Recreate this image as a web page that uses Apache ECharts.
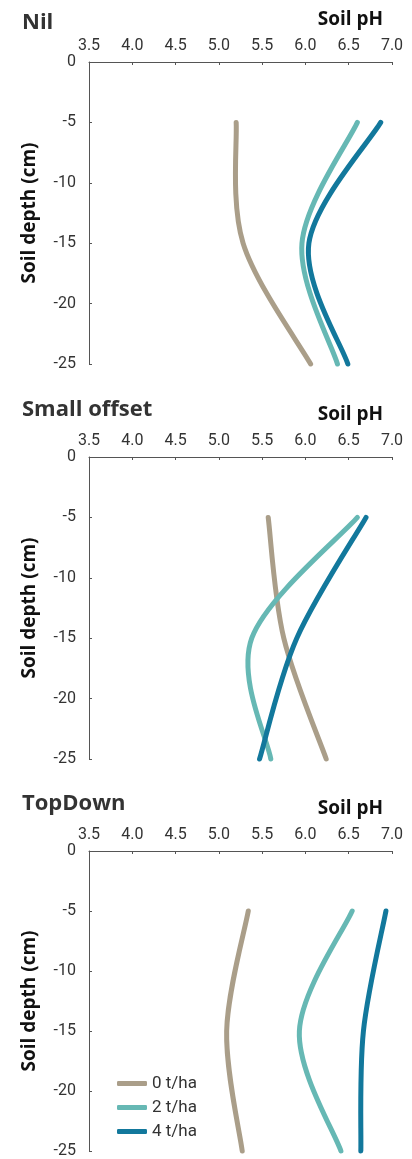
<!DOCTYPE html>
<html>
<head>
<meta charset="utf-8">
<script src="https://cdn.jsdelivr.net/npm/echarts@6/dist/echarts.min.js"></script>
<style>
  html, body { margin: 0; padding: 0; background: #fff; }
  #chart { width: 412px; height: 1159px; }
</style>
</head>
<body>
<div id="chart"></div>
<script>
// Sampling depths (cm, negative = below surface)
const depths = [-5, -15, -25];

// Soil pH by lime rate, one array per treatment panel
const nil0 = [5.20, 5.28, 6.06];
const nil2 = [6.60, 5.96, 6.37];
const nil4 = [6.87, 6.04, 6.49];

const small0 = [5.57, 5.75, 6.24];
const small2 = [6.60, 5.38, 5.60];
const small4 = [6.70, 5.90, 5.47];

const top0 = [5.34, 5.09, 5.27];
const top2 = [6.54, 5.93, 6.41];
const top4 = [6.93, 6.67, 6.64];

const panelTitles = ['Nil', 'Small offset', 'TopDown'];
const rateNames = ['0 t/ha', '2 t/ha', '4 t/ha'];
const rateColors = ['#AA9E89', '#66B8B4', '#12789C'];
const phTicks = { min: 3.5, max: 7.0, step: 0.5 };
const depthTicks = { min: -25, max: 0, step: 5 };

const panels = [
  [nil0, nil2, nil4],
  [small0, small2, small4],
  [top0, top2, top4]
];

const gridTops = [62, 457, 851];
const gridHeight = 302;
const textColor = '#333';
const axisColor = '#555';
const titleFont = '"Open Sans", sans-serif';
const labelFont = 'Roboto, sans-serif';

// Smooth curve through the data points (Catmull-Rom style Bezier in pixel space)
function curveRenderer(phs, color) {
  return function (params, api) {
    if (params.dataIndex !== 0) return null;
    const p = phs.map((v, i) => api.coord([v, depths[i]]));
    const k = 1 / 6;
    let d = 'M' + p[0][0] + ' ' + p[0][1];
    for (let i = 0; i < p.length - 1; i++) {
      const a = p[i - 1] || p[i];
      const b = p[i];
      const c = p[i + 1];
      const e = p[i + 2] || p[i + 1];
      const c1 = [b[0] + (c[0] - a[0]) * k, b[1] + (c[1] - a[1]) * k];
      const c2 = [c[0] - (e[0] - b[0]) * k, c[1] - (e[1] - b[1]) * k];
      d += ' C' + c1[0] + ' ' + c1[1] + ' ' + c2[0] + ' ' + c2[1] + ' ' + c[0] + ' ' + c[1];
    }
    return {
      type: 'path',
      shape: { pathData: d },
      style: {
        fill: 'none',
        stroke: color,
        lineWidth: 5,
        lineCap: 'round',
        lineJoin: 'round'
      },
      silent: true
    };
  };
}

const titles = [];
const grids = [];
const xAxes = [];
const yAxes = [];
const series = [];

panels.forEach((panel, g) => {
  const top = gridTops[g];
  titles.push({
    text: panelTitles[g],
    left: 17,
    top: g === 0 ? top - 55 : top - 63,
    textStyle: { fontFamily: titleFont, fontWeight: 'bold', fontSize: 22, color: textColor }
  });
  titles.push({
    text: 'Soil pH',
    right: 24,
    top: top - 57,
    textStyle: { fontFamily: titleFont, fontWeight: 'bold', fontSize: 19, color: '#111' }
  });
  grids.push({ left: 89, right: 20, top: top, height: gridHeight });
  xAxes.push({
    type: 'value',
    gridIndex: g,
    position: 'top',
    min: phTicks.min,
    max: phTicks.max,
    interval: phTicks.step,
    splitLine: { show: false },
    axisLine: { show: true, lineStyle: { color: axisColor, width: 1 } },
    axisTick: { show: true, inside: true, length: 3, lineStyle: { color: axisColor } },
    axisLabel: {
      margin: 8,
      fontFamily: labelFont,
      fontSize: 16,
      color: textColor,
      formatter: v => v.toFixed(1)
    }
  });
  yAxes.push({
    type: 'value',
    gridIndex: g,
    min: depthTicks.min,
    max: depthTicks.max,
    interval: depthTicks.step,
    name: 'Soil depth (cm)',
    nameLocation: 'middle',
    nameGap: 50,
    nameTextStyle: { fontFamily: titleFont, fontWeight: 'bold', fontSize: 19, color: '#111' },
    splitLine: { show: false },
    axisLine: { show: true, lineStyle: { color: axisColor, width: 1 } },
    axisTick: { show: true, inside: true, length: 3, lineStyle: { color: axisColor } },
    axisLabel: { margin: 13, fontFamily: labelFont, fontSize: 16, color: textColor }
  });
  panel.forEach((phs, r) => {
    series.push({
      type: 'custom',
      name: rateNames[r],
      xAxisIndex: g,
      yAxisIndex: g,
      color: rateColors[r],
      itemStyle: { color: rateColors[r] },
      data: phs.map((v, i) => [v, depths[i]]),
      renderItem: curveRenderer(phs, rateColors[r]),
      z: 2 + r
    });
  });
});

const chart = echarts.init(document.getElementById('chart'), null, { renderer: 'canvas' });
chart.setOption({
  animation: false,
  backgroundColor: '#fff',
  title: titles,
  grid: grids,
  xAxis: xAxes,
  yAxis: yAxes,
  legend: {
    data: rateNames.map((n, i) => ({ name: n, itemStyle: { color: rateColors[i] } })),
    orient: 'vertical',
    left: 112,
    top: 1070,
    icon: 'roundRect',
    itemWidth: 30,
    itemHeight: 5,
    itemGap: 7,
    textStyle: { fontFamily: labelFont, fontSize: 17, color: textColor, lineHeight: 17 }
  },
  series: series
});
</script>
</body>
</html>
